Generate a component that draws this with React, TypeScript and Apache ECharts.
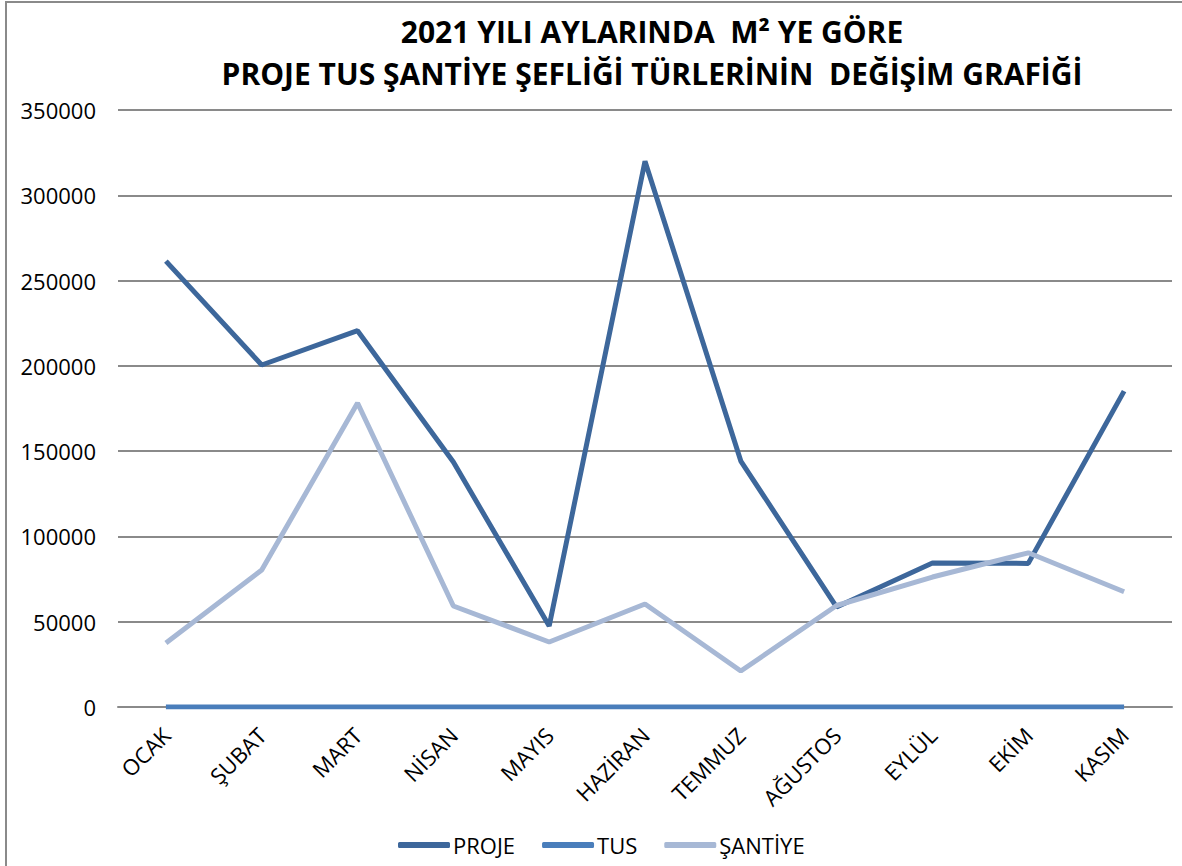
import React, { useEffect, useRef } from "react";
import * as echarts from "echarts";

const months = ["OCAK", "ŞUBAT", "MART", "NİSAN", "MAYIS", "HAZİRAN", "TEMMUZ", "AĞUSTOS", "EYLÜL", "EKİM", "KASIM"];
const proje = [261400, 200500, 220600, 143600, 47500, 320000, 144200, 58600, 84400, 84200, 185200];
const tus = [0, 0, 0, 0, 0, 0, 0, 0, 0, 0, 0];
const santiye = [37500, 80300, 178200, 59200, 38100, 60400, 21100, 59500, 76200, 90400, 67600];
const titleLines = ["2021 YILI AYLARINDA  M² YE GÖRE", "PROJE TUS ŞANTİYE ŞEFLİĞİ TÜRLERİNİN  DEĞİŞİM GRAFİĞİ"];

const FONT = "'Open Sans', 'Noto Sans', sans-serif";

export default function App() {
  const ref = useRef<HTMLDivElement>(null);
  useEffect(() => {
    document.body.style.margin = "0";
    const chart = echarts.init(ref.current!, null, { renderer: "svg" });
    chart.setOption({
      animation: false,
      backgroundColor: "#ffffff",
      textStyle: { fontFamily: FONT },
      graphic: [
        {
          type: "rect",
          shape: { x: 6, y: 2, width: 1300, height: 1000 },
          style: { fill: "none", stroke: "#8a8a8a", lineWidth: 2 },
          silent: true,
        },
        {
          type: "text",
          x: 652,
          y: 31,
          style: { text: titleLines[0], fontFamily: FONT, fontWeight: "bold", fontSize: 30, fill: "#000", textAlign: "center", textVerticalAlign: "middle" },
        },
        {
          type: "text",
          x: 652,
          y: 73,
          style: { text: titleLines[1], fontFamily: FONT, fontWeight: "bold", fontSize: 30, fill: "#000", textAlign: "center", textVerticalAlign: "middle" },
        },
      ],
      legend: {
        bottom: 5,
        left: 393,
        itemWidth: 52,
        itemHeight: 6,
        itemGap: 27,
        icon: "roundRect",
        textStyle: { fontFamily: FONT, fontSize: 22, color: "#000", padding: [0, 0, 0, -2] },
        data: ["PROJE", "TUS", "ŞANTİYE"],
      },
      grid: { left: 118, right: 10, top: 110, bottom: 159, containLabel: false },
      xAxis: {
        type: "category",
        data: months,
        boundaryGap: true,
        axisLine: { lineStyle: { color: "#8a8a8a", width: 2 } },
        axisTick: { show: false },
        axisLabel: { rotate: 45, fontSize: 22, color: "#000", fontFamily: FONT, margin: 24 },
      },
      yAxis: {
        type: "value",
        min: 0,
        max: 350000,
        interval: 50000,
        axisLine: { show: false },
        axisTick: { show: false },
        splitLine: { lineStyle: { color: "#8a8a8a", width: 2 } },
        axisLabel: { fontSize: 22, color: "#000", fontFamily: FONT, margin: 22, formatter: (v: number) => String(v) },
      },
      series: [
        { name: "PROJE", type: "line", data: proje, symbol: "none", color: "#3D679B", lineStyle: { width: 5, color: "#3D679B" } },
        { name: "TUS", type: "line", data: tus, symbol: "none", color: "#4A7EBB", lineStyle: { width: 5, color: "#4A7EBB" } },
        { name: "ŞANTİYE", type: "line", data: santiye, symbol: "none", color: "#A7B8D5", lineStyle: { width: 5, color: "#A7B8D5" } },
      ],
    });
    return () => chart.dispose();
  }, []);
  return <div ref={ref} style={{ width: 1182, height: 866 }} />;
}
